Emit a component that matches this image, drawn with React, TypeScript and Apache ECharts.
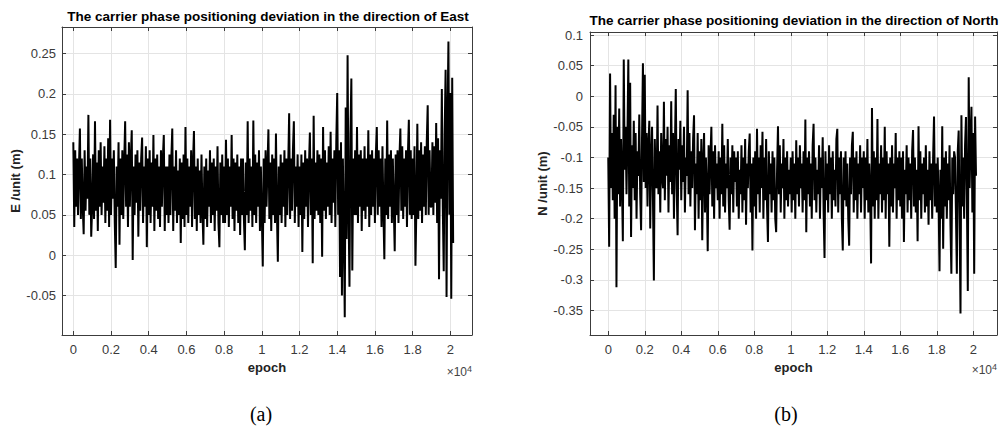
import React, { useEffect, useRef } from "react";
import * as echarts from "echarts";

// epoch spacing between successive samples
const epochStep = 50;
const epochTicks = [0, 2000, 4000, 6000, 8000, 10000, 12000, 14000, 16000, 18000, 20000];
const eastTicks = [-0.05, 0, 0.05, 0.1, 0.15, 0.2, 0.25];
const northTicks = [-0.35, -0.3, -0.25, -0.2, -0.15, -0.1, -0.05, 0, 0.05, 0.1];

const eastValues = [
  0.14, 0.035, 0.13, 0.06, 0.12, 0.05, 0.11, 0.157, 0.045, 0.12, 0.06, 0.026, 0.13, 0.055, 0.11, 0.07, 0.174, 0.05, 0.12, 0.023,
  0.06, 0.125, 0.045, 0.166, 0.055, 0.115, 0.03, 0.13, 0.06, 0.14, 0.05, 0.11, 0.065, 0.135, 0.04, 0.12, 0.055, 0.145, 0.035, 0.168,
  0.05, 0.12, 0.07, 0.13, 0.04, -0.016, 0.11, 0.06, 0.14, 0.013, 0.12, 0.05, 0.13, 0.045, 0.115, 0.166, 0.06, 0.125, 0.035, 0.14,
  0.06, 0.12, 0.155, -0.006, 0.11, 0.05, 0.125, 0.065, 0.13, 0.023, 0.115, 0.055, 0.12, 0.146, 0.04, 0.11, 0.06, 0.135, 0.01, 0.12,
  0.05, 0.13, 0.04, 0.115, 0.06, 0.149, 0.03, 0.12, 0.055, 0.125, 0.045, 0.11, 0.035, 0.13, 0.06, 0.12, 0.149, 0.03, 0.11, 0.05,
  0.11, 0.04, 0.125, 0.05, 0.12, 0.157, 0.03, 0.11, 0.055, 0.13, 0.04, 0.105, 0.05, 0.12, 0.015, 0.115, 0.045, 0.125, 0.035, 0.159,
  0.05, 0.12, 0.04, 0.11, 0.06, 0.13, 0.035, 0.115, 0.154, 0.045, 0.11, 0.03, 0.12, 0.05, 0.105, 0.04, 0.125, 0.055, 0.013, 0.11,
  0.045, 0.12, 0.035, 0.105, 0.06, 0.13, 0.04, 0.115, 0.05, 0.12, 0.03, 0.11, 0.055, 0.135, 0.04, 0.01, 0.115, 0.05, 0.125, 0.04,
  0.11, 0.04, 0.143, 0.05, 0.12, 0.035, 0.11, 0.06, 0.149, 0.045, 0.12, 0.03, 0.115, 0.055, 0.125, 0.04, 0.11, 0.025, 0.12, 0.05,
  0.12, 0.045, 0.006, 0.115, 0.05, 0.166, 0.04, 0.12, 0.055, 0.11, 0.035, 0.167, 0.05, 0.125, 0.04, 0.115, 0.06, 0.13, 0.03, 0.11,
  0.05, -0.014, 0.12, 0.04, 0.13, 0.06, 0.11, 0.156, 0.045, 0.115, 0.03, 0.125, 0.05, 0.12, 0.04, 0.151, 0.055, -0.008, 0.11, 0.05,
  0.125, 0.04, 0.115, 0.06, 0.13, 0.035, 0.12, 0.05, 0.11, 0.176, 0.045, 0.12, 0.055, 0.13, 0.166, 0.04, 0.11, 0.06, 0.125, 0.035,
  0.11, 0.05, 0.125, 0.004, 0.115, 0.045, 0.13, 0.06, 0.12, 0.035, 0.11, 0.152, 0.05, 0.12, -0.01, 0.173, 0.045, 0.115, 0.055, 0.13,
  0.05, 0.125, 0.04, 0.12, -0.002, 0.159, 0.055, 0.13, 0.045, 0.115, 0.06, 0.135, 0.05, 0.153, 0.04, 0.12, 0.065, 0.13, 0.035, 0.14,
  0.201, 0.05, 0.13, -0.027, 0.14, -0.05, 0.12, 0.03, -0.077, 0.183, 0.02, 0.248, 0.06, -0.039, 0.15, 0.219, -0.019, 0.12, 0.05, 0.13,
  0.05, 0.159, 0.04, 0.125, 0.06, 0.13, 0.03, 0.12, 0.055, 0.135, 0.045, 0.12, 0.06, 0.155, 0.035, 0.125, 0.05, 0.13, 0.06, 0.12,
  0.04, 0.125, 0.159, 0.05, 0.13, 0.06, 0.12, 0.035, 0.135, 0.055, -0.005, 0.12, 0.05, 0.167, 0.045, 0.125, 0.06, 0.13, 0.04, 0.12,
  0.06, 0.005, 0.125, 0.05, 0.13, 0.04, 0.12, 0.157, 0.055, 0.135, 0.045, 0.12, 0.06, 0.13, 0.035, 0.125, 0.168, 0.05, 0.13, 0.045,
  0.12, 0.05, 0.135, -0.013, 0.06, 0.163, 0.045, 0.13, 0.055, 0.14, 0.04, 0.125, 0.06, 0.135, 0.05, 0.14, 0.186, 0.05, 0.13, 0.06,
  0.06, 0.14, 0.05, 0.135, 0.065, 0.164, 0.04, 0.145, -0.03, 0.13, 0.07, 0.206, 0.06, -0.02, 0.15, 0.23, -0.052, 0.17, 0.265, 0.05,
  0.201, -0.054, 0.22, 0.015,
];

const northValues = [
  -0.1, -0.246, 0.037, -0.15, -0.06, -0.17, -0.03, -0.2, 0.018, -0.312, -0.05, -0.16, -0.02, -0.18, -0.07, -0.14, -0.237, 0.06, -0.12, -0.05,
  -0.16, -0.07, 0.06, -0.18, 0.022, -0.23, -0.08, -0.15, -0.04, -0.17, -0.06, -0.2, -0.09, -0.13, -0.03, -0.16, -0.219, -0.07, 0.054, -0.14,
  0.035, -0.15, -0.06, -0.18, -0.08, -0.04, -0.216, -0.1, -0.05, -0.17, -0.301, -0.07, -0.14, -0.15, -0.015, -0.16, -0.09, -0.19, -0.06, -0.13,
  -0.15, -0.009, -0.17, -0.07, -0.13, -0.05, -0.19, -0.08, -0.14, -0.008, -0.16, -0.06, -0.2, -0.09, 0.012, -0.15, -0.227, -0.07, -0.12, -0.04,
  -0.17, -0.08, -0.14, -0.05, -0.19, -0.1, -0.13, 0.01, -0.16, -0.06, -0.18, -0.09, -0.15, -0.07, -0.031, -0.219, -0.11, -0.16, -0.06, -0.2,
  -0.09, -0.17, -0.07, -0.235, -0.11, -0.06, -0.19, -0.1, -0.15, -0.253, -0.08, -0.16, -0.1, -0.05, -0.18, -0.09, -0.2, -0.08, -0.15, -0.11,
  -0.17, -0.09, -0.2, -0.1, -0.16, -0.045, -0.18, -0.08, -0.19, -0.11, -0.15, -0.07, -0.17, -0.218, -0.1, -0.16, -0.08, -0.19, -0.09, -0.14,
  -0.1, -0.18, -0.09, -0.2, -0.12, -0.16, -0.08, -0.19, -0.1, -0.17, -0.07, -0.21, -0.11, -0.15, -0.09, -0.061, -0.19, -0.11, -0.252, -0.1,
  -0.18, -0.09, -0.2, -0.053, -0.16, -0.1, -0.19, -0.08, -0.15, -0.058, -0.2, -0.1, -0.17, -0.07, -0.18, -0.238, -0.09, -0.16, -0.11, -0.19,
  -0.09, -0.17, -0.1, -0.2, -0.222, -0.12, -0.049, -0.16, -0.08, -0.19, -0.11, -0.15, -0.07, -0.2, -0.1, -0.17, -0.09, -0.18, -0.12, -0.16,
  -0.1, -0.19, -0.09, -0.17, -0.11, -0.2, -0.072, -0.16, -0.1, -0.18, -0.08, -0.15, -0.11, -0.19, -0.09, -0.17, -0.038, -0.222, -0.1, -0.16,
  -0.09, -0.18, -0.11, -0.2, -0.08, -0.045, -0.17, -0.1, -0.19, -0.12, -0.16, -0.08, -0.2, -0.1, -0.15, -0.067, -0.19, -0.264, -0.09, -0.17,
  -0.11, -0.19, -0.08, -0.16, -0.1, -0.2, -0.09, -0.17, -0.12, -0.18, -0.07, -0.053, -0.19, -0.1, -0.16, -0.09, -0.2, -0.252, -0.1, -0.17,
  -0.09, -0.18, -0.11, -0.2, -0.244, -0.1, -0.16, -0.08, -0.058, -0.19, -0.1, -0.17, -0.09, -0.2, -0.11, -0.16, -0.08, -0.19, -0.1, -0.15,
  -0.09, -0.2, -0.1, -0.17, -0.07, -0.19, -0.11, -0.16, -0.273, -0.019, -0.18, -0.09, -0.2, -0.1, -0.17, -0.037, -0.2, -0.11, -0.16, -0.08,
  -0.19, -0.1, -0.17, -0.05, -0.2, -0.09, -0.16, -0.11, -0.246, -0.1, -0.18, -0.08, -0.19, -0.11, -0.15, -0.06, -0.2, -0.1, -0.17, -0.09,
  -0.18, -0.1, -0.2, -0.09, -0.238, -0.12, -0.16, -0.08, -0.19, -0.1, -0.17, -0.11, -0.2, -0.09, -0.055, -0.18, -0.1, -0.19, -0.12, -0.237,
  -0.049, -0.17, -0.09, -0.2, -0.11, -0.16, -0.1, -0.19, -0.08, -0.18, -0.12, -0.21, -0.09, -0.17, -0.11, -0.2, -0.1, -0.033, -0.18, -0.11,
  -0.19, -0.1, -0.17, -0.286, -0.12, -0.2, -0.049, -0.249, -0.1, -0.18, -0.09, -0.2, -0.11, -0.17, -0.08, -0.21, -0.29, -0.1, -0.16, -0.09,
  -0.1, -0.19, -0.29, -0.09, -0.056, -0.2, -0.355, -0.031, -0.18, -0.1, -0.2, -0.08, -0.034, -0.17, -0.318, 0.031, -0.15, -0.07, -0.017, -0.19,
  -0.06, -0.29, -0.033, -0.13,
];

const AXIS_COLOR = "#3c3c3c";
const LABEL_COLOR = "#3a3a3a";
const GRID_COLOR = "#e4e4e4";
const FONT = "Liberation Sans";

const fmtEpoch = (v: number) => String(+(v / 10000).toFixed(1));
const fmtVal = (v: number) => String(+v.toFixed(2));

function xAxes(gridIndex: number, min: number, max: number) {
  const base = {
    gridIndex,
    type: "value" as const,
    min,
    max,
  };
  return [
    {
      ...base,
      position: "bottom",
      name: "epoch",
      nameLocation: "middle",
      nameGap: 26,
      nameTextStyle: { fontFamily: FONT, fontWeight: "bold", fontSize: 13, color: "#222" },
      axisLine: { show: true, onZero: false, lineStyle: { color: AXIS_COLOR, width: 1 } },
      axisTick: { show: true, inside: true, length: 4, customValues: epochTicks, lineStyle: { color: AXIS_COLOR } },
      axisLabel: {
        show: true,
        customValues: epochTicks,
        formatter: fmtEpoch,
        margin: 8,
        fontFamily: FONT,
        fontSize: 13,
        color: LABEL_COLOR,
      },
      splitLine: { show: true, lineStyle: { color: GRID_COLOR, width: 1 } },
    },
    {
      ...base,
      position: "top",
      axisLine: { show: true, onZero: false, lineStyle: { color: AXIS_COLOR, width: 1 } },
      axisTick: { show: true, inside: true, length: 4, customValues: epochTicks, lineStyle: { color: AXIS_COLOR } },
      axisLabel: { show: false },
      splitLine: { show: false },
    },
  ];
}

function yAxes(gridIndex: number, min: number, max: number, ticks: number[], name: string, nameGap: number, margin: number) {
  const base = {
    gridIndex,
    type: "value" as const,
    min,
    max,
  };
  return [
    {
      ...base,
      position: "left",
      name,
      nameLocation: "middle",
      nameGap,
      nameTextStyle: { fontFamily: FONT, fontWeight: "bold", fontSize: 13, color: "#222" },
      axisLine: { show: true, onZero: false, lineStyle: { color: AXIS_COLOR, width: 1 } },
      axisTick: { show: true, inside: true, length: 4, customValues: ticks, lineStyle: { color: AXIS_COLOR } },
      axisLabel: {
        show: true,
        customValues: ticks,
        formatter: fmtVal,
        margin,
        fontFamily: FONT,
        fontSize: 13,
        color: LABEL_COLOR,
      },
      splitLine: { show: true, lineStyle: { color: GRID_COLOR, width: 1 } },
    },
    {
      ...base,
      position: "right",
      axisLine: { show: true, onZero: false, lineStyle: { color: AXIS_COLOR, width: 1 } },
      axisTick: { show: true, inside: true, length: 4, customValues: ticks, lineStyle: { color: AXIS_COLOR } },
      axisLabel: { show: false },
      splitLine: { show: false },
    },
  ];
}

export default function App() {
  const ref = useRef<HTMLDivElement>(null);

  useEffect(() => {
    if (!ref.current) return;
    const chart = echarts.init(ref.current, undefined, { renderer: "svg" });

    const eastData = eastValues.map((v, i) => [i * epochStep, v]);
    const northData = northValues.map((v, i) => [i * epochStep, v]);

    const titleStyle = {
      font: `bold 13.5px "${FONT}"`,
      fill: "#000",
      textAlign: "center",
      textVerticalAlign: "middle",
    };
    const expStyle = {
      rich: {
        m: { fontFamily: FONT, fontSize: 12, fill: "#444", color: "#444" },
        e: { fontFamily: FONT, fontSize: 9, fill: "#444", color: "#444", verticalAlign: "top", padding: [0, 0, 6, 0] },
      },
      textAlign: "right",
      textVerticalAlign: "middle",
    };

    const lineSeries = (xi: number, yi: number, data: number[][]) => ({
      type: "line",
      xAxisIndex: xi,
      yAxisIndex: yi,
      data,
      symbol: "none",
      showSymbol: false,
      silent: true,
      lineStyle: { color: "#000", width: 2, join: "bevel" },
      z: 3,
    });

    chart.setOption({
      animation: false,
      backgroundColor: "#fff",
      grid: [
        { left: 62, top: 27, width: 410, height: 308, containLabel: false },
        { left: 590, top: 32, width: 407, height: 303, containLabel: false },
      ],
      xAxis: [...xAxes(0, -600, 21150), ...xAxes(1, -1000, 21300)],
      yAxis: [
        ...yAxes(0, -0.099, 0.283, eastTicks, "E /unit (m)", 39, 6),
        ...yAxes(1, -0.39, 0.105, northTicks, "N /unit (m)", 40, 7),
      ],
      series: [lineSeries(0, 0, eastData), lineSeries(2, 2, northData)],
      graphic: [
        { type: "text", x: 268, y: 16, style: { ...titleStyle, text: "The carrier phase positioning deviation in the direction of East" } },
        { type: "text", x: 794, y: 20, style: { ...titleStyle, text: "The carrier phase positioning deviation in the direction of North" } },
        { type: "text", x: 472, y: 372, style: { ...expStyle, text: "{m|\u00d710}{e|4}" } },
        { type: "text", x: 997, y: 370, style: { ...expStyle, text: "{m|\u00d710}{e|4}" } },
        {
          type: "text",
          x: 261,
          y: 414,
          style: { text: "(a)", font: '20px "Liberation Serif"', fill: "#000", textAlign: "center", textVerticalAlign: "middle" },
        },
        {
          type: "text",
          x: 786,
          y: 414,
          style: { text: "(b)", font: '20px "Liberation Serif"', fill: "#000", textAlign: "center", textVerticalAlign: "middle" },
        },
      ],
    });

    return () => chart.dispose();
  }, []);

  return (
    <div
      ref={ref}
      style={{ position: "fixed", left: 0, top: 0, width: 1002, height: 429, background: "#fff" }}
    />
  );
}
